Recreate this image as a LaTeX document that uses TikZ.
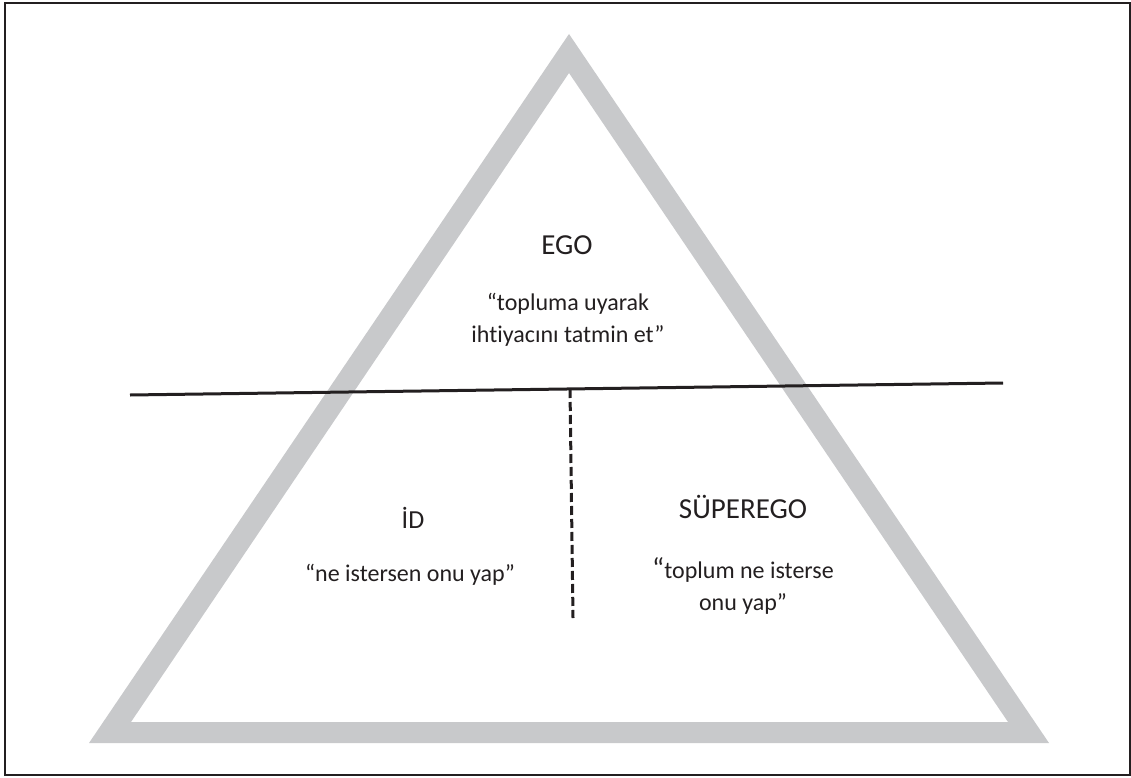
\documentclass[tikz,border=0pt]{standalone}
\usepackage{fontspec}
\setmainfont{Carlito}[Ligatures=NoCommon]
\definecolor{bandgray}{RGB}{200,201,203}
\definecolor{inkblack}{RGB}{35,31,32}
\tikzset{
  head/.style={inner sep=0pt, text=inkblack, font=\fontsize{29}{34}\selectfont},
  body/.style={inner sep=0pt, text=inkblack, align=center, font=\fontsize{24}{32}\selectfont},
  divider/.style={draw=inkblack, line width=3pt},
  splitline/.style={draw=inkblack, line width=3pt, dash pattern=on 9pt off 4pt},
}
\begin{document}
\begin{tikzpicture}[x=1pt,y=-1pt]
\useasboundingbox (0,0) rectangle (1131,778);
% outer frame
\draw[inkblack, line width=2pt] (5,3) rectangle (1130,775);
% gray triangle band
\fill[bandgray, even odd rule]
  (569,34) -- (1049,743) -- (89,743) -- cycle
  (569,73) -- (1008,722) -- (131,722) -- cycle;
% dividing lines
\coordinate (hl) at (130,395);
\coordinate (hr) at (1003,383);
\coordinate (vt) at (570,389);
\coordinate (vb) at (573,618);
\draw[divider] (hl) -- (hr);
\draw[splitline] (vt) -- (vb);
% texts
\node[head] (ego) at (567,245) {EGO};
\node[body] (egotxt) at (568,320) {“topluma uyarak\\ihtiyacını tatmin et”};
\node[head, font=\fontsize{26}{30}\selectfont] (id) at (413,518) {İD};
\node[body] (idtxt) at (410,575) {“ne istersen onu yap”};
\node[head] (super) at (743,507) {SÜPEREGO};
\node[body] (supertxt) at (743,586) {{\fontsize{29}{32}\selectfont“}toplum ne isterse\\onu yap”};
\end{tikzpicture}
\end{document}
